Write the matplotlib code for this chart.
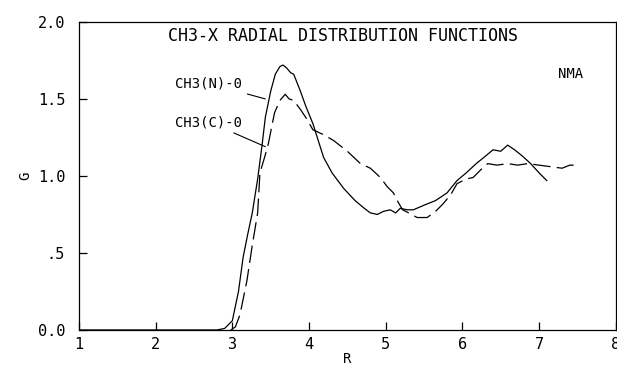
import numpy as np
import matplotlib
matplotlib.use('Agg')
import matplotlib.pyplot as plt

# ========== data ==========
r_n = [1.0, 2.8, 2.9, 3.0, 3.08, 3.14, 3.2, 3.26, 3.33, 3.39, 3.43, 3.5, 3.56, 3.62, 3.66,
       3.71, 3.76, 3.8, 3.88, 3.96, 4.05, 4.19, 4.3, 4.45, 4.6, 4.72, 4.8, 4.89, 4.97,
       5.06, 5.13, 5.19, 5.28, 5.36, 5.5, 5.65, 5.8, 5.93, 6.05, 6.18, 6.28, 6.4, 6.5,
       6.59, 6.68, 6.78, 6.89, 7.0, 7.1]
g_n = [0.0, 0.0, 0.01, 0.06, 0.25, 0.47, 0.62, 0.76, 0.98, 1.21, 1.38, 1.55, 1.66, 1.71, 1.72,
       1.70, 1.67, 1.66, 1.56, 1.45, 1.34, 1.12, 1.02, 0.92, 0.84, 0.79, 0.76, 0.75, 0.77,
       0.78, 0.76, 0.79, 0.78, 0.78, 0.81, 0.84, 0.89, 0.97, 1.02, 1.08, 1.12, 1.17, 1.16,
       1.20, 1.17, 1.13, 1.08, 1.02, 0.97]

r_c = [2.98, 3.04, 3.1, 3.19, 3.26, 3.33, 3.36, 3.42, 3.47, 3.55, 3.62, 3.69, 3.74, 3.8,
       3.89, 3.97, 4.05, 4.18, 4.32, 4.5, 4.67, 4.8, 4.93, 5.02, 5.1, 5.15, 5.22, 5.3,
       5.41, 5.54, 5.65, 5.75, 5.85, 5.93, 6.05, 6.14, 6.24, 6.33, 6.45, 6.59, 6.72,
       6.85, 7.0, 7.15, 7.3, 7.4, 7.5]
g_c = [0.0, 0.02, 0.1, 0.32, 0.55, 0.76, 1.02, 1.12, 1.21, 1.41, 1.49, 1.53, 1.50, 1.49,
       1.43, 1.37, 1.30, 1.27, 1.23, 1.16, 1.08, 1.05, 0.99, 0.93, 0.89, 0.84, 0.78, 0.76,
       0.73, 0.73, 0.77, 0.82, 0.88, 0.95, 0.98, 0.99, 1.04, 1.08, 1.07, 1.08, 1.07,
       1.08, 1.07, 1.06, 1.05, 1.07, 1.07]

xticks = [1, 2, 3, 4, 5, 6, 7, 8]
yticks = [0.0, 0.5, 1.0, 1.5, 2.0]
ylabels = ['0.0', '.5', '1.0', '1.5', '2.0']

FONT = 'DejaVu Sans Mono'
plt.rcParams['font.family'] = FONT

fig = plt.figure(figsize=(6.17, 3.65), dpi=100)
ax = fig.add_axes([0.128, 0.096, 0.870, 0.844])

ax.plot(r_n, g_n, color='black', linewidth=0.9)
ax.plot(r_c, g_c, color='black', linewidth=0.9, dashes=(14, 5))

ax.set_xlim(1, 8)
ax.set_ylim(0, 2)
ax.set_xticks(xticks)
ax.set_xticklabels([str(x) for x in xticks])
ax.set_yticks(yticks)
ax.set_yticklabels(ylabels)
ax.tick_params(direction='in', length=6, width=0.9, labelsize=11)
ax.tick_params(axis='y', pad=10)
ax.tick_params(axis='x', pad=5)
for s in ax.spines.values():
    s.set_linewidth(0.9)

ax.set_xlabel('R', fontsize=10, labelpad=0)
ax.set_ylabel('G', fontsize=10, labelpad=4)

ax.text(0.5 - 0.008, 0.985, 'CH3-X RADIAL DISTRIBUTION FUNCTIONS', transform=ax.transAxes,
        ha='center', va='top', fontsize=12)
ax.text(7.58, 1.66, 'NMA', ha='right', va='center', fontsize=10)

ax.annotate('CH3(N)-0', xy=(3.43, 1.5), xytext=(3.13, 1.6), ha='right', va='center',
            fontsize=10, arrowprops=dict(arrowstyle='-', color='black', lw=0.8, shrinkA=2, shrinkB=0))
ax.annotate('CH3(C)-0', xy=(3.43, 1.19), xytext=(3.13, 1.35), ha='right', va='center',
            fontsize=10, arrowprops=dict(arrowstyle='-', color='black', lw=0.8, shrinkA=2, shrinkB=0))

plt.savefig('out.png', dpi=100)
plt.close()
